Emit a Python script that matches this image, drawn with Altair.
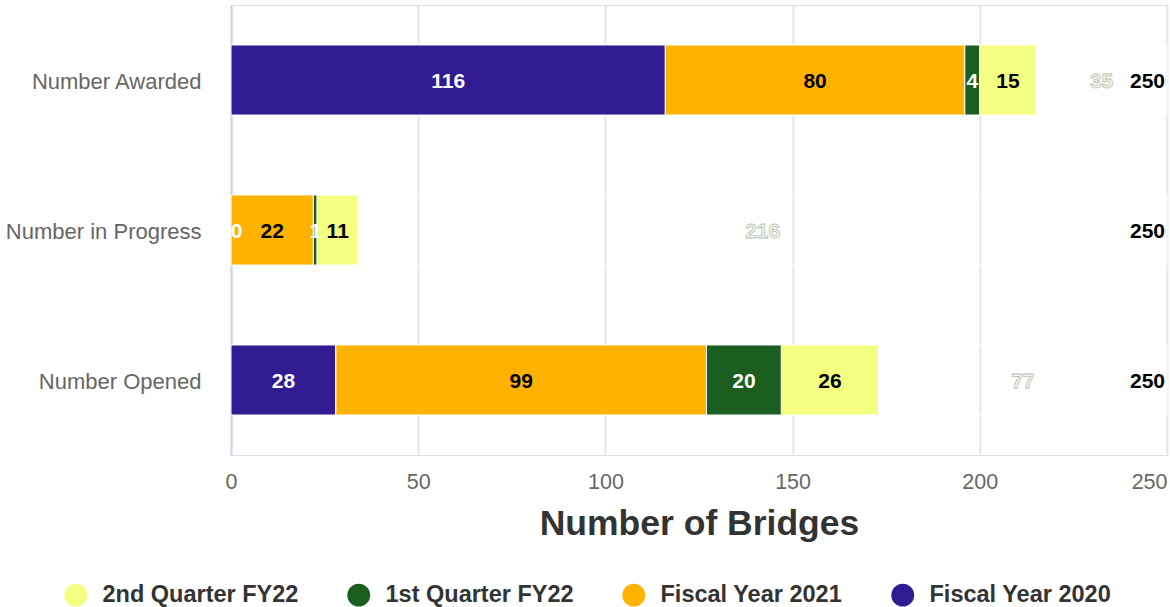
import altair as alt
import pandas as pd

categories = ["Number Awarded", "Number in Progress", "Number Opened"]
series_names = ["Fiscal Year 2020", "Fiscal Year 2021", "1st Quarter FY22", "2nd Quarter FY22"]
fy2020 = [116, 0, 28]
fy2021 = [80, 22, 99]
q1_fy22 = [4, 1, 20]
q2_fy22 = [15, 11, 26]
remaining = [35, 216, 77]
totals = [250, 250, 250]
x_ticks = [0, 50, 100, 150, 200, 250]

legend_order = ["2nd Quarter FY22", "1st Quarter FY22", "Fiscal Year 2021", "Fiscal Year 2020"]
legend_colors = ["#F4FF81", "#1B5E20", "#FFB300", "#311B92"]
white_label_series = ["Fiscal Year 2020", "1st Quarter FY22"]

series_values = [fy2020, fy2021, q1_fy22, q2_fy22]
rows = []
rem_rows = []
for ci, cat in enumerate(categories):
    start = 0
    for si, name in enumerate(series_names):
        v = series_values[si][ci]
        rows.append({"cat": cat, "series": name, "value": v, "start": start,
                     "end": start + v, "mid": start + v / 2})
        start += v
    r = remaining[ci]
    rem_rows.append({"cat": cat, "value": r, "start": start, "end": start + r,
                     "mid": start + r / 2, "total": totals[ci]})

df = pd.DataFrame(rows)
rem = pd.DataFrame(rem_rows)

W, H = 936, 450
FONT = "Liberation Sans"

xscale = alt.Scale(domain=[0, 250], nice=False)
yscale = alt.Scale(domain=categories, paddingInner=0.533, paddingOuter=0.2667)

y_enc = alt.Y("cat:N", scale=yscale, sort=categories, title=None,
              axis=alt.Axis(domainColor="#ccd6eb", domainWidth=2, ticks=False,
                            labelFontSize=22, labelColor="#666666", labelPadding=30,
                            labelFont=FONT, grid=False, labelLimit=0, labelOffset=2))

bars = alt.Chart(df).mark_bar(stroke="white", strokeWidth=1).encode(
    x=alt.X("start:Q", scale=xscale, title="Number of Bridges",
            axis=alt.Axis(values=x_ticks, domain=False, ticks=False, grid=True,
                          gridColor="#e6e6e6", gridWidth=2,
                          labelFontSize=21.5, labelColor="#666666", labelPadding=16,
                          labelFont=FONT,
                          labelAlign={"condition": {"test": "datum.value == 250", "value": "right"},
                                      "value": "center"},
                          titleFontSize=35.5, titleFontWeight="bold", titleColor="#333333",
                          titleFont=FONT, titlePadding=14)),
    x2="end:Q",
    y=y_enc,
    color=alt.Color("series:N", scale=alt.Scale(domain=legend_order, range=legend_colors),
                    title=None,
                    legend=alt.Legend(orient="none", direction="horizontal", columns=4,
                                      legendX=-167, legendY=578, padding=0,
                                      symbolType="circle", symbolSize=520,
                                      symbolStrokeWidth=0, symbolOpacity=1,
                                      labelFontSize=23.5, labelFontWeight="bold",
                                      labelColor="#333333", labelFont=FONT, labelLimit=0,
                                      labelOffset=15, columnPadding=48)),
)

rem_bars = alt.Chart(rem).mark_bar(fill="transparent", stroke="white", strokeWidth=1).encode(
    x=alt.X("start:Q", scale=xscale),
    x2="end:Q",
    y=alt.Y("cat:N", scale=yscale, sort=categories),
)

labels = alt.Chart(df).transform_calculate(
    lx="max(datum.mid, 1.5)"
).mark_text(fontSize=21, fontWeight="bold", font=FONT, baseline="middle", dy=2).encode(
    x=alt.X("lx:Q", scale=xscale),
    y=alt.Y("cat:N", scale=yscale, sort=categories),
    text="value:Q",
    color=alt.condition(
        alt.FieldOneOfPredicate(field="series", oneOf=white_label_series),
        alt.value("white"), alt.value("black")),
)

rem_labels = alt.Chart(rem).mark_text(
    fontSize=21, fontWeight="bold", font=FONT, baseline="middle", dy=2,
    fill="#f3f6ee", stroke="#b9c0b2", strokeWidth=0.8
).encode(
    x=alt.X("mid:Q", scale=xscale),
    y=alt.Y("cat:N", scale=yscale, sort=categories),
    text="value:Q",
)

total_labels = alt.Chart(rem).mark_text(
    fontSize=21, fontWeight="bold", font=FONT, baseline="middle", align="right",
    color="black", dx=-2, dy=2
).encode(
    x=alt.X("end:Q", scale=xscale),
    y=alt.Y("cat:N", scale=yscale, sort=categories),
    text="total:Q",
)

chart = alt.layer(bars, rem_bars, labels, rem_labels, total_labels).properties(
    width=W, height=H,
    autosize=alt.AutoSizeParams(type="none"),
    padding={"left": 231, "top": 5, "right": 3, "bottom": 152},
).configure_view(stroke=None).configure(font=FONT)

chart.save("out.html", embed_options={"renderer": "svg", "actions": False})
